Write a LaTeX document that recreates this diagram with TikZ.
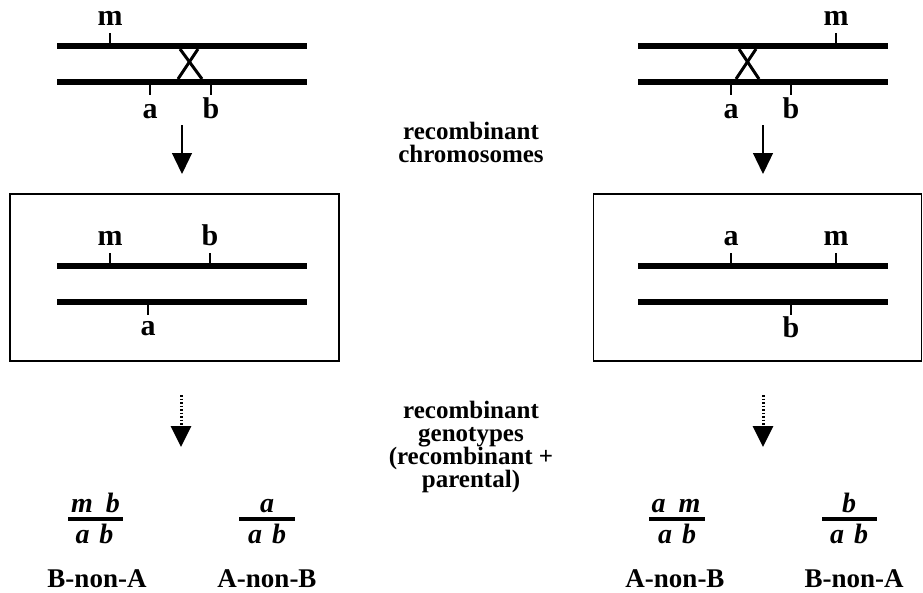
\documentclass[tikz,border=0pt]{standalone}
\usepackage{fontspec}
\setmainfont{Liberation Serif}
\usetikzlibrary{arrows.meta}
\tikzset{
  chromline/.style={line width=6pt},
  locustick/.style={line width=1.2pt},
  xover/.style={line width=3pt},
  loclbl/.style={font=\fontsize{30}{30}\selectfont\bfseries, anchor=base, inner sep=0pt},
  midtxt/.style={font=\fontsize{25}{23}\selectfont\bfseries, align=center, inner sep=0pt},
  gentxt/.style={font=\fontsize{28}{28}\selectfont\bfseries\itshape, anchor=base, inner sep=0pt},
  phentxt/.style={font=\fontsize{27}{27}\selectfont\bfseries, anchor=base, inner sep=0pt},
  fracline/.style={line width=4pt},
  framebox/.style={draw, line width=1.4pt},
  solidarrow/.style={line width=1.3pt, -{Triangle[width=20pt,length=21pt]}},
  dotarrow/.style={line width=3pt, dash pattern=on 1.5pt off 2pt, -{Triangle[width=20pt,length=21pt]}},
}
\begin{document}
\begin{tikzpicture}[x=1pt,y=-1pt]
\useasboundingbox (0,0) rectangle (923,592);
% ---------- top left
\draw[chromline] (57,46) -- (307,46);
\draw[chromline] (57,82) -- (307,82);
\draw[xover] (180,49) -- (202,79);
\draw[xover] (198,49) -- (178,79);
\draw[locustick] (110,33) -- (110,43);
\draw[locustick] (150,85) -- (150,95);
\draw[locustick] (211,85) -- (211,95);
\node[loclbl] (tlm) at (110,25) {m};
\node[loclbl] (tla) at (150,118) {a};
\node[loclbl] (tlb) at (211,118) {b};
% ---------- top right
\draw[chromline] (638,46) -- (888,46);
\draw[chromline] (638,82) -- (888,82);
\draw[xover] (739,49) -- (759,79);
\draw[xover] (756,49) -- (736,79);
\draw[locustick] (836,33) -- (836,43);
\draw[locustick] (731,85) -- (731,95);
\draw[locustick] (791,85) -- (791,95);
\node[loclbl] (trm) at (836,25) {m};
\node[loclbl] (tra) at (731,118) {a};
\node[loclbl] (trb) at (791,118) {b};
% ---------- solid arrows
\coordinate (s1a) at (182,125); \coordinate (s1b) at (182,174);
\coordinate (s2a) at (763,125); \coordinate (s2b) at (763,174);
\draw[solidarrow] (s1a) -- (s1b);
\draw[solidarrow] (s2a) -- (s2b);
\node[midtxt] (rc) at (471,142) {recombinant\\chromosomes};
% ---------- boxes
\node[framebox, minimum width=329pt, minimum height=167pt, inner sep=0pt] (boxL) at (174.5,277.5) {};
\node[framebox, minimum width=328pt, minimum height=167pt, inner sep=0pt] (boxR) at (757.5,277.5) {};
\draw[chromline] (57,266) -- (307,266);
\draw[chromline] (57,302) -- (307,302);
\draw[locustick] (110,253) -- (110,263);
\draw[locustick] (210,253) -- (210,263);
\draw[locustick] (148,305) -- (148,315);
\node[loclbl] (bm) at (110,245) {m};
\node[loclbl] (bb) at (210,245) {b};
\node[loclbl] (ba) at (148,335) {a};
\draw[chromline] (638,266) -- (888,266);
\draw[chromline] (638,302) -- (888,302);
\draw[locustick] (731,253) -- (731,263);
\draw[locustick] (836,253) -- (836,263);
\draw[locustick] (791,305) -- (791,315);
\node[loclbl] (ra) at (731,245) {a};
\node[loclbl] (rm) at (836,245) {m};
\node[loclbl] (rb) at (791,337) {b};
% ---------- dotted arrows
\coordinate (d1a) at (181,395); \coordinate (d1b) at (181,447);
\coordinate (d2a) at (763,395); \coordinate (d2b) at (763,447);
\draw[dotarrow] (d1a) -- (d1b);
\draw[dotarrow] (d2a) -- (d2b);
\node[midtxt] (rg) at (471,447) {recombinant\\genotypes\\(recombinant +\\parental)};
% ---------- genotypes
\draw[fracline] (68,519) -- (123,519);
\node[gentxt] (g1n) at (95.5,512) {m\hspace{13pt}b};
\node[gentxt] (g1d) at (94.5,543) {a\hspace{10pt}b};
\node[phentxt] (n1) at (97,587) {B-non-A};
\draw[fracline] (239,519) -- (295,519);
\node[gentxt] (g2n) at (267,512) {a};
\node[gentxt] (g2d) at (267,543) {a\hspace{10pt}b};
\node[phentxt] (n2) at (267,587) {A-non-B};
\draw[fracline] (649,519) -- (705,519);
\node[gentxt] (g3n) at (676,512) {a\hspace{13pt}m};
\node[gentxt] (g3d) at (677,543) {a\hspace{10pt}b};
\node[phentxt] (n3) at (675,587) {A-non-B};
\draw[fracline] (822,519) -- (877,519);
\node[gentxt] (g4n) at (849,512) {b};
\node[gentxt] (g4d) at (849,543) {a\hspace{10pt}b};
\node[phentxt] (n4) at (854,587) {B-non-A};
\end{tikzpicture}
\end{document}
